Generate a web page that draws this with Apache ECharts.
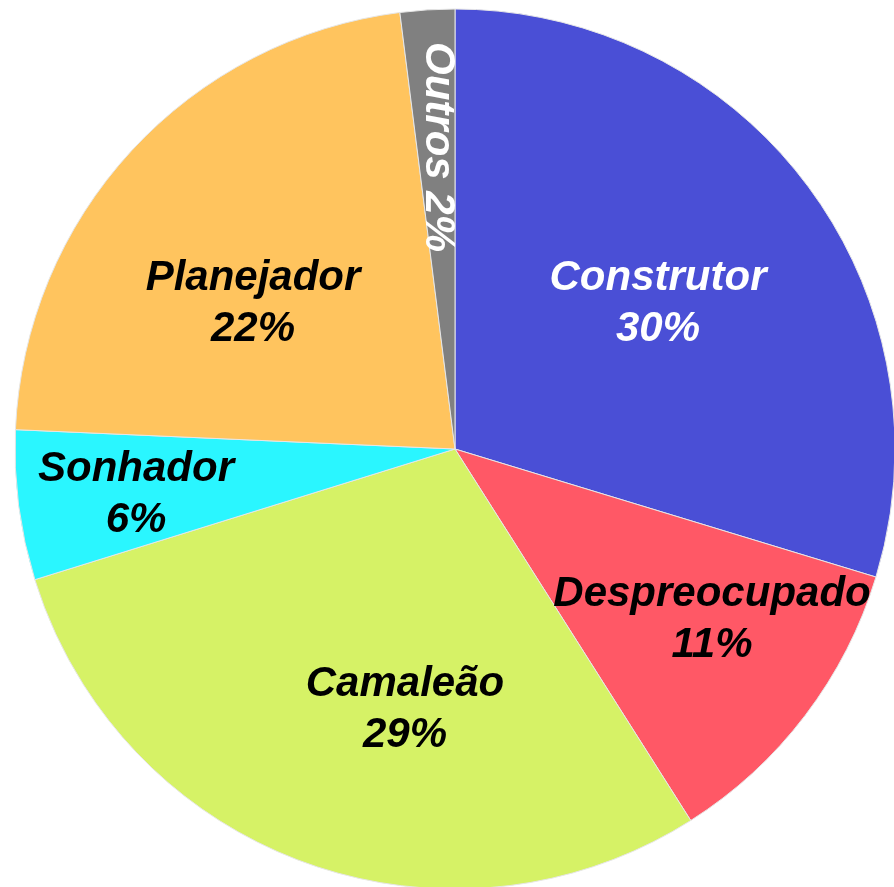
<!DOCTYPE html>
<html>
<head>
<meta charset="utf-8">
<script src="https://cdn.jsdelivr.net/npm/echarts@6/dist/echarts.min.js"></script>
<style>
  html, body { margin: 0; padding: 0; background: #fff; }
  #chart { width: 894px; height: 887px; }
</style>
</head>
<body>
<div id="chart"></div>
<script>
// perfis, sentido horário a partir das 12h
const categories = ['Construtor', 'Despreocupado', 'Camaleão', 'Sonhador', 'Planejador', 'Outros']
const values = [29.7, 11.3, 29.2, 5.5, 22.3, 2.0]

const colors = ['#4a4fd6', '#ff5866', '#d6f266', '#2af6ff', '#ffc45e', '#808080']
const labelColors = ['#fff', '#000', '#000', '#000', '#000', '#fff']
// onde cada rótulo fica (px), rotação e quebra de linha
const labelSpots = [[658, 304], [712, 620], [405, 710], [136, 495], [253, 304], [438, 147]]
const labelRotate = [0, 0, 0, 0, 0, -90]
const labelFormats = ['{b}\n{d}%', '{b}\n{d}%', '{b}\n{d}%', '{b}\n{d}%', '{b}\n{d}%', '{b} {d}%']

const myChart = echarts.init(document.getElementById('chart'))

myChart.setOption({
    animation: false,
    series: [
        {
            type: 'pie',
            center: [455, 449],
            radius: 440,
            startAngle: 90,
            clockwise: true,
            percentPrecision: 0,
            itemStyle: {
                borderColor: '#e6e6e6',
                borderWidth: 1
            },
            label: {
                show: true,
                position: 'inside',
                fontFamily: 'Liberation Sans, Arial, sans-serif',
                fontStyle: 'italic',
                fontWeight: 'bold',
                fontSize: 42,
                lineHeight: 51
            },
            labelLine: { show: false },
            labelLayout: (params) => {
                const i = params.dataIndex
                return {
                    x: labelSpots[i][0],
                    y: labelSpots[i][1],
                    rotate: labelRotate[i]
                }
            },
            data: categories.map((name, i) => ({
                name: name,
                value: values[i],
                itemStyle: { color: colors[i] },
                label: { color: labelColors[i], formatter: labelFormats[i] }
            }))
        }
    ]
})
</script>
</body>
</html>
